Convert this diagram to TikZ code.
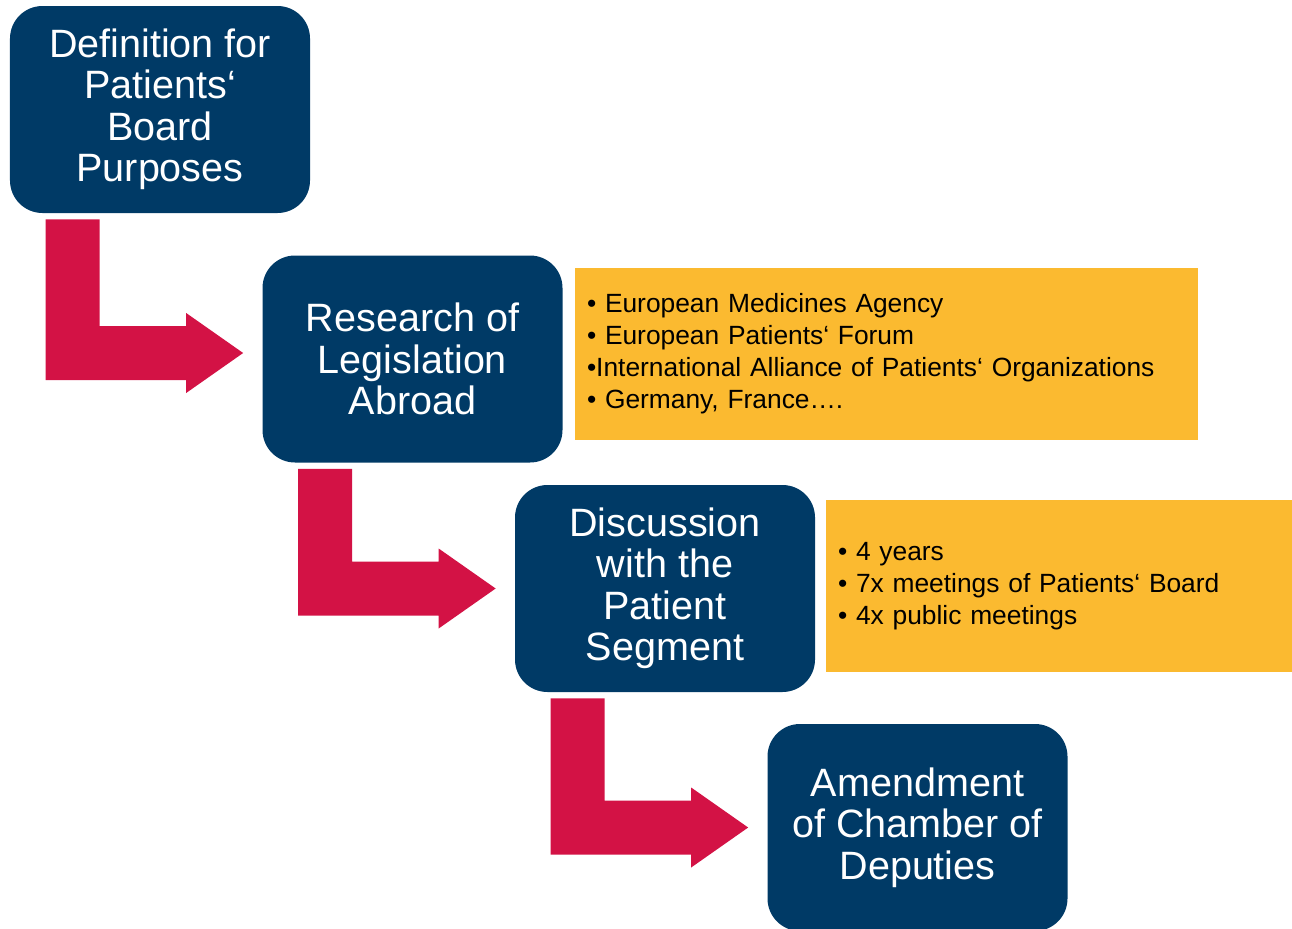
\documentclass[tikz,border=0pt]{standalone}
\usepackage{fontspec}
\setmainfont{Liberation Sans}
\usepackage{tikz}
\usetikzlibrary{calc}
\definecolor{boardblue}{RGB}{0,58,102}
\definecolor{arrowred}{RGB}{211,18,69}
\definecolor{noteorange}{RGB}{251,186,48}

\begin{document}
\begin{tikzpicture}[stage/.style={fill=boardblue, text=white, rounded corners=0.65cm, minimum width=6cm, minimum height=4.14cm, inner sep=0pt, align=center, font=\fontsize{22.5}{23.6}\selectfont},
  note/.style={fill=noteorange, minimum height=3.44cm, inner xsep=0.24cm, inner ysep=0pt, align=left, font=\fontsize{15}{18.2}\selectfont}]
\useasboundingbox (0,0) rectangle (25.84,-18.56);
% the four steps
\node[stage] (def) at (3.2,-2.19) {Definition for\\Patients‘\\Board\\Purposes};
\node[stage] (research) at (8.25,-7.18) {Research of\\Legislation\\Abroad};
\node[stage] (discuss) at (13.3,-11.77) {Discussion\\with the\\Patient\\Segment};
\node[stage] (amend) at (18.35,-16.55) {Amendment\\of Chamber of\\Deputies};
% notes
\node[note, text width=11.98cm] (abroadnote) at (17.73,-7.08) {• European Medicines Agency\\• European Patients‘ Forum\\•International Alliance of Patients‘ Organizations\\• Germany, France….};
\node[note, text width=8.84cm] (discussnote) at (21.18,-11.72) {• 4 years\\• 7x meetings of Patients‘ Board\\• 4x public meetings};
% bent arrows
\fill[arrowred] let \p1=(def.south west), \p2=($(research.west)+(0,0.12)$) in (\x1+0.72cm,\y1-0.12cm) -- (\x1+1.8cm,\y1-0.12cm) -- (\x1+1.8cm,\y2+0.54cm) -- (\x2-1.52cm,\y2+0.54cm) -- (\x2-1.52cm,\y2+0.8cm) -- (\x2-0.38cm,\y2) -- (\x2-1.52cm,\y2-0.8cm) -- (\x2-1.52cm,\y2-0.54cm) -- (\x1+0.72cm,\y2-0.54cm) -- cycle;
\fill[arrowred] let \p1=(research.south west), \p2=(discuss.west) in (\x1+0.72cm,\y1-0.12cm) -- (\x1+1.8cm,\y1-0.12cm) -- (\x1+1.8cm,\y2+0.54cm) -- (\x2-1.52cm,\y2+0.54cm) -- (\x2-1.52cm,\y2+0.8cm) -- (\x2-0.38cm,\y2) -- (\x2-1.52cm,\y2-0.8cm) -- (\x2-1.52cm,\y2-0.54cm) -- (\x1+0.72cm,\y2-0.54cm) -- cycle;
\fill[arrowred] let \p1=(discuss.south west), \p2=(amend.west) in (\x1+0.72cm,\y1-0.12cm) -- (\x1+1.8cm,\y1-0.12cm) -- (\x1+1.8cm,\y2+0.54cm) -- (\x2-1.52cm,\y2+0.54cm) -- (\x2-1.52cm,\y2+0.8cm) -- (\x2-0.38cm,\y2) -- (\x2-1.52cm,\y2-0.8cm) -- (\x2-1.52cm,\y2-0.54cm) -- (\x1+0.72cm,\y2-0.54cm) -- cycle;
\end{tikzpicture}
\end{document}
